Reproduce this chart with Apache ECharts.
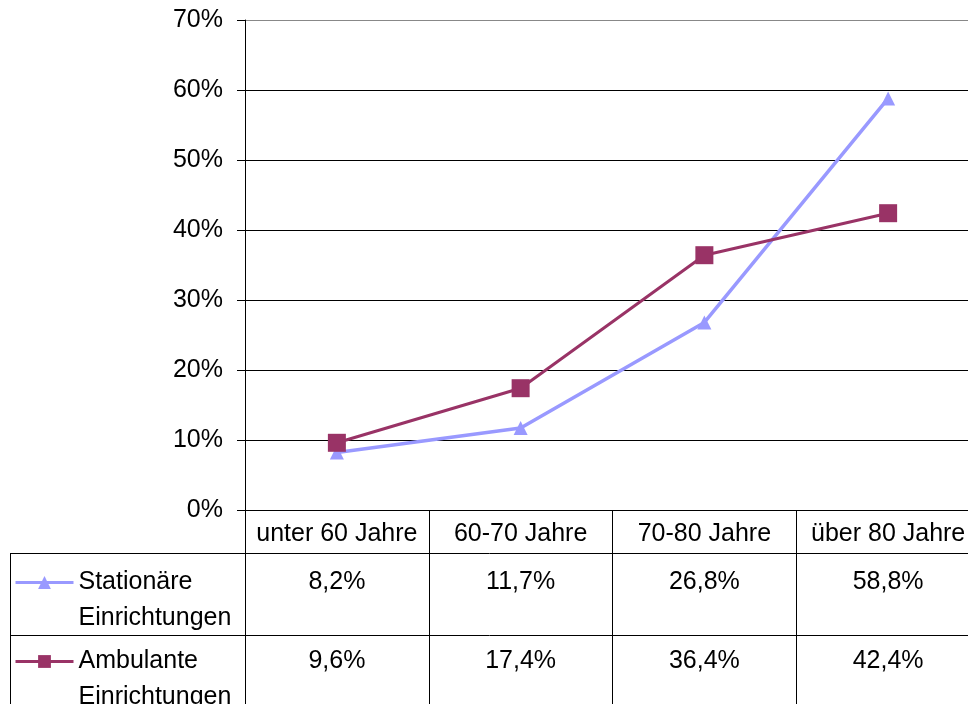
<!DOCTYPE html>
<html>
<head>
<meta charset="utf-8">
<script src="https://cdn.jsdelivr.net/npm/echarts@6/dist/echarts.min.js"></script>
<style>
  html, body { margin: 0; padding: 0; background: #fff; }
  #chart { width: 968px; height: 704px; }
</style>
</head>
<body>
<div id="chart"></div>
<script>
// Daten
const categories = ["unter 60 Jahre", "60-70 Jahre", "70-80 Jahre", "über 80 Jahre"];
const stationaer = [0.082, 0.117, 0.268, 0.588];
const ambulant = [0.096, 0.174, 0.364, 0.424];
const seriesNames = ["Stationäre", "Ambulante"];
const rowSuffix = "Einrichtungen";

const FONT = "Liberation Sans, Arial, sans-serif";
const FS = 25;
const fmt = (v) => (v * 100).toFixed(1).replace(".", ",") + "%";

const chart = echarts.init(document.getElementById("chart"));

// Legende = Zeilenköpfe der Datentabelle
const legendRow = (name, iconY) => ({
  data: [name],
  left: 14,
  top: iconY - 53.5,
  padding: 0,
  itemWidth: 58,
  itemHeight: 16,
  lineStyle: { width: 3 },
  formatter: (n) => "\n" + n + "\n" + rowSuffix,
  textStyle: { fontFamily: FONT, fontSize: FS, color: "#000", lineHeight: 36 },
});

const options = {
  animation: false,
  grid: {
    left: 245,
    top: 20,
    width: 735,
    bottom: 194,
    outerBoundsMode: "none",
  },
  legend: [legendRow(seriesNames[0], 582), legendRow(seriesNames[1], 661)],
  xAxis: {
    type: "category",
    data: categories,
    boundaryGap: true,
    axisLine: { lineStyle: { color: "#000", width: 1 } },
    axisTick: { show: true, interval: 0, length: 194, lineStyle: { color: "#000", width: 1 } },
    axisLabel: { interval: 0, fontFamily: FONT, fontSize: FS, color: "#000", margin: 12 },
  },
  yAxis: {
    type: "value",
    min: 0,
    max: 0.7,
    interval: 0.1,
    axisLine: { show: true, lineStyle: { color: "#000" } },
    axisTick: { show: true, length: 8, lineStyle: { color: "#000" } },
    axisLabel: {
      fontFamily: FONT,
      fontSize: FS,
      color: "#000",
      margin: 22,
      formatter: (v) => Math.round(v * 100) + "%",
    },
    splitLine: {
      lineStyle: {
        color: ["#000", "#000", "#000", "#000", "#000", "#000", "#000", "#888"],
        width: 1,
      },
    },
  },
  series: [
    {
      name: seriesNames[0],
      type: "line",
      data: stationaer,
      symbol: "triangle",
      symbolSize: 14,
      lineStyle: { color: "#9999ff", width: 3.5 },
      itemStyle: { color: "#9999ff" },
      z: 2,
    },
    {
      name: seriesNames[1],
      type: "line",
      data: ambulant,
      symbol: "rect",
      symbolSize: 18,
      lineStyle: { color: "#993366", width: 3 },
      itemStyle: { color: "#993366" },
      z: 3,
    },
  ],
};

chart.setOption(options);

// Datentabelle unter dem Diagramm
const rowY = [582, 661];
const rows = [stationaer, ambulant];
const graphics = [
  { type: "line", shape: { x1: 10, y1: 553.5, x2: 980, y2: 553.5 }, style: { stroke: "#000", lineWidth: 1 } },
  { type: "line", shape: { x1: 10, y1: 635.5, x2: 980, y2: 635.5 }, style: { stroke: "#000", lineWidth: 1 } },
  { type: "line", shape: { x1: 10.5, y1: 553, x2: 10.5, y2: 704 }, style: { stroke: "#000", lineWidth: 1 } },
];
rows.forEach((vals, r) => {
  vals.forEach((v, i) => {
    const x = chart.convertToPixel({ xAxisIndex: 0 }, categories[i]);
    graphics.push({
      type: "text",
      x: x,
      y: rowY[r],
      style: {
        text: fmt(v),
        fontFamily: FONT,
        fontSize: FS,
        fill: "#000",
        align: "center",
        verticalAlign: "middle",
      },
    });
  });
});
chart.setOption({ graphic: graphics });

window.addEventListener("resize", () => chart.resize());
</script>
</body>
</html>
